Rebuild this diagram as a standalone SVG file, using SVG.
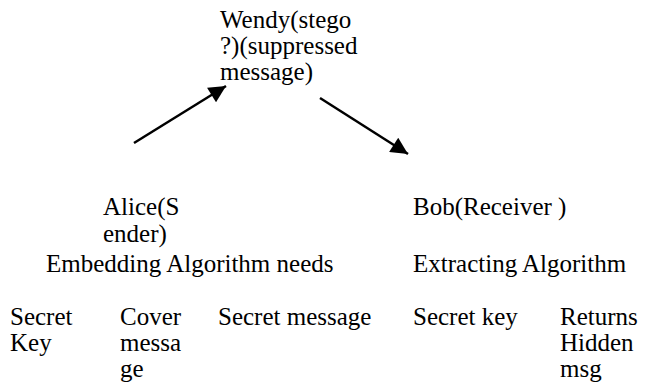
<svg xmlns="http://www.w3.org/2000/svg" width="652" height="385" viewBox="0 0 652 385">
<style>
text{font-family:"Liberation Serif","Times New Roman","DejaVu Serif",serif;font-size:25px;fill:#000}
.c{stroke:#000;stroke-width:2.5;fill:none}
</style>
<defs>
<marker id="ah" viewBox="0 0 10 10" refX="10" refY="5" markerWidth="8" markerHeight="6.8" markerUnits="strokeWidth" orient="auto">
<path d="M0,0 L10,5 L0,10 z" fill="#000"/>
</marker>
</defs>
<rect width="652" height="385" fill="#fff"/>
<g id="connectors">
<line class="c" x1="134" y1="143" x2="226" y2="86" marker-end="url(#ah)"/>
<line class="c" x1="320" y1="98" x2="408" y2="154" marker-end="url(#ah)"/>
</g>
<g font-family="'Liberation Serif', 'Times New Roman', serif" font-size="25">
<g id="wendy"><text x="220" y="28">Wendy(stego</text><text x="220" y="54">?)(suppressed</text><text x="220" y="80">message)</text></g>
<g id="alice"><text x="103" y="215">Alice(S</text><text x="103" y="242">ender)</text></g>
<g id="bob"><text x="413" y="215">Bob(Receiver )</text></g>
<g id="embedding"><text x="46" y="272">Embedding Algorithm needs</text></g>
<g id="extracting"><text x="413" y="272">Extracting Algorithm</text></g>
<g id="secret-key"><text x="10" y="325">Secret</text><text x="10" y="351">Key</text></g>
<g id="cover"><text x="120" y="325">Cover</text><text x="120" y="351">messa</text><text x="120" y="377">ge</text></g>
<g id="secret-message"><text x="218" y="325">Secret message</text></g>
<g id="secret-key2"><text x="413" y="325">Secret key</text></g>
<g id="returns"><text x="560" y="325">Returns</text><text x="560" y="351">Hidden</text><text x="560" y="377">msg</text></g>
</g>
</svg>
